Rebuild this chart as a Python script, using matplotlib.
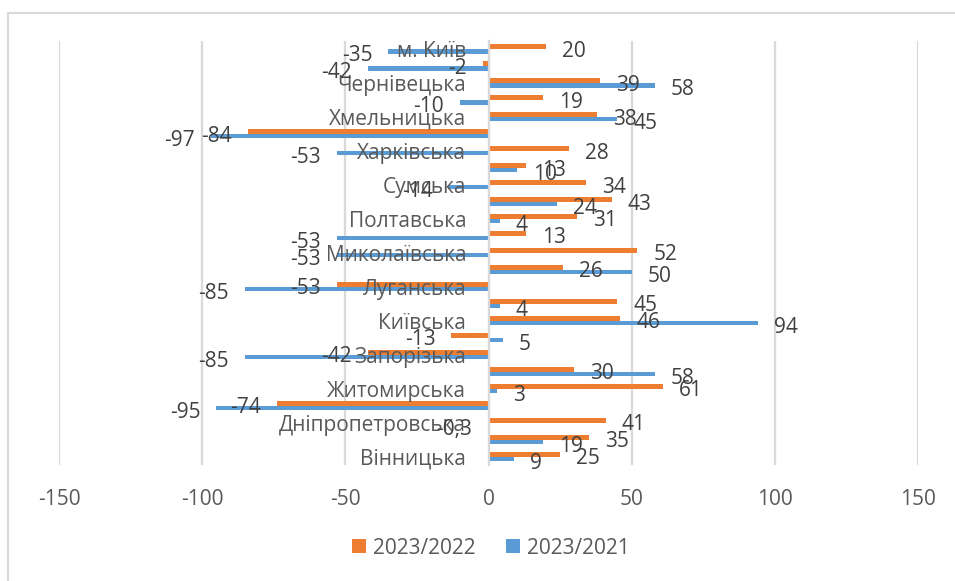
import matplotlib
matplotlib.use("Agg")
import matplotlib.pyplot as plt
from matplotlib.patches import Rectangle, Patch

plt.rcParams['font.family'] = ['Open Sans', 'DejaVu Sans']

# Regions, bottom to top
regions = [
    "Вінницька", "Волинська", "Дніпропетровська", "Донецька", "Житомирська",
    "Закарпатська", "Запорізька", "Івано-Франківська", "Київська", "Кіровоградська",
    "Луганська", "Львівська", "Миколаївська", "Одеська", "Полтавська",
    "Рівненська", "Сумська", "Тернопільська", "Харківська", "Херсонська",
    "Хмельницька", "Черкаська", "Чернівецька", "Чернігівська", "м. Київ",
]

series_names = ["2023/2022", "2023/2021"]

change_2023_2022 = [25, 35, 41, -74, 61, 30, -42, -13, 46, 45,
                    -53, 26, 52, 13, 31, 43, 34, 13, 28, -84,
                    38, 19, 39, -2, 20]
change_2023_2021 = [9, 19, -0.3, -95, 3, 58, -85, 5, 94, 4,
                    -85, 50, -53, -53, 4, 24, -14, 10, -53, -97,
                    45, -10, 58, -42, -35]

x_ticks = [-150, -100, -50, 0, 50, 100, 150]

ORANGE = "#ED7D31"
BLUE = "#5B9BD5"
GRID = "#D9D9D9"
AXIS_TEXT = "#595959"
LABEL_TEXT = "#404040"
FS = 15

fig = plt.figure(figsize=(9.55, 5.81), dpi=100)
ax = fig.add_axes([59 / 955, 1 - 465 / 581, (918 - 59) / 955, (465 - 40.5) / 581])

# category axis sits on the zero line
ax.spines["left"].set_position(("data", 0))
ax.spines["left"].set_color(GRID)
ax.spines["left"].set_linewidth(1.6)
for side in ("top", "right", "bottom"):
    ax.spines[side].set_visible(False)

pos = list(range(len(regions)))
bar_h = 0.27
off = 0.135

ax.barh([p + off for p in pos], change_2023_2022, height=bar_h, color=ORANGE, zorder=1)
ax.barh([p - off for p in pos], change_2023_2021, height=bar_h, color=BLUE, zorder=1)


def fmt(v):
    s = f"{v:g}"
    return s.replace(".", ",")


for vals, dy in ((change_2023_2022, off), (change_2023_2021, -off)):
    for p, v in zip(pos, vals):
        sign = 1 if v >= 0 else -1
        ax.annotate(fmt(v), xy=(v, p + dy), xytext=(16 * sign, -2),
                    textcoords="offset pixels",
                    ha="left" if sign > 0 else "right", va="center_baseline",
                    fontsize=FS, color=LABEL_TEXT, zorder=5)

ax.set_xlim(-150, 150)
ax.set_ylim(-0.5, len(regions) - 0.5)

ax.set_xticks(x_ticks)
ax.set_xticklabels([str(t) for t in x_ticks], fontsize=FS, color=AXIS_TEXT)
ax.tick_params(axis="x", length=0, pad=17)
ax.grid(axis="x", color=GRID, linewidth=1.6)
ax.xaxis.set_zorder(0.5)

ax.set_yticks(pos[::2])
ax.set_yticklabels(regions[::2], fontsize=FS, color=AXIS_TEXT)
ax.tick_params(axis="y", length=0, pad=16)

handles = [Patch(facecolor=ORANGE), Patch(facecolor=BLUE)]
fig.legend(handles, series_names, loc="center", bbox_to_anchor=(491 / 955, 1 - 548 / 581),
           ncol=2, frameon=False, fontsize=FS, handlelength=0.65, handleheight=0.65,
           handletextpad=0.35, columnspacing=1.45, labelcolor=AXIS_TEXT)

# chart-area frame
fig.patches.append(Rectangle((8 / 955, -0.2), 1.2, 1.2 - 13 / 581,
                             transform=fig.transFigure, fill=False,
                             edgecolor=GRID, linewidth=1.5))

fig.savefig("out.png", dpi=100)
